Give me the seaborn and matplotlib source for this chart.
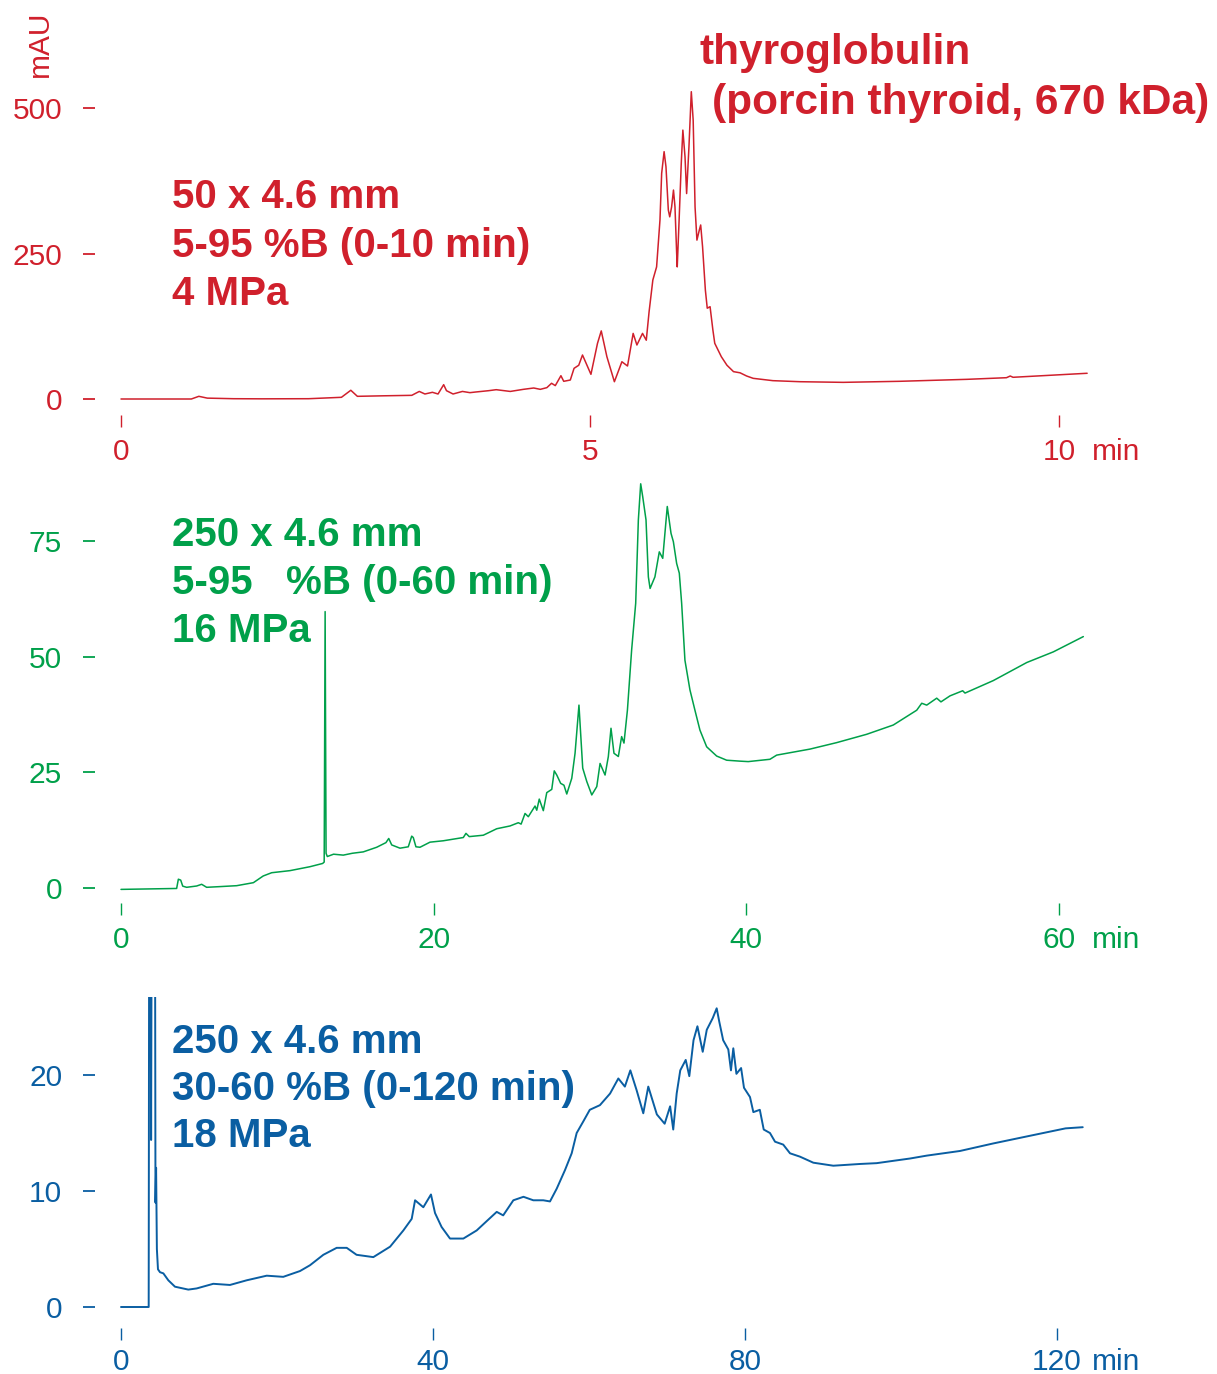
import matplotlib
matplotlib.use('Agg')
import matplotlib.pyplot as plt
import seaborn as sns

sns.set_style('white')
plt.rcParams['font.family'] = ['Liberation Sans', 'DejaVu Sans']

W, H, DPI = 1217, 1374, 100
RED = '#D0202C'
GREEN = '#00A04A'
BLUE = '#0A5EA2'

# ---------------- data: panel 1 (50 x 4.6 mm, 0-10 min) ----------------
t1 = [0.0, 0.75, 0.83, 0.92, 1.2, 1.5, 2.0, 2.35, 2.45, 2.52,
      2.8, 3.1, 3.18, 3.24, 3.32, 3.38, 3.44, 3.47, 3.54, 3.64,
      3.72, 3.78, 3.92, 4.0, 4.15, 4.29, 4.40, 4.47, 4.54, 4.59,
      4.63, 4.69, 4.72, 4.79, 4.83, 4.88, 4.92, 5.01, 5.08, 5.12,
      5.18, 5.26, 5.34, 5.40, 5.46, 5.50, 5.56, 5.60, 5.63, 5.67,
      5.71, 5.746, 5.764, 5.79, 5.81, 5.835, 5.85, 5.87, 5.89, 5.906,
      5.924, 5.93, 5.95, 5.973, 5.99, 6.013, 6.03, 6.055, 6.08, 6.10,
      6.12, 6.14, 6.165, 6.18, 6.20, 6.23, 6.25, 6.28, 6.31, 6.33,
      6.40, 6.46, 6.53, 6.60, 6.67, 6.74, 6.95, 7.24, 7.70, 8.30,
      9.02, 9.44, 9.48, 9.51, 10.30]
y1 = [0, 0, 4.6, 1.5, 0.5, 0.3, 0.5, 2.9, 15, 4.6,
      5.5, 6.3, 13, 8.6, 11.5, 8.6, 24.6, 14.3, 8.6, 13,
      10.9, 12, 14.3, 16, 13, 16.6, 18.9, 16.6, 19.5, 27,
      23, 40, 30.4, 32.6, 52.7, 58, 75.6, 42.4, 95.7, 117,
      72.7, 29.7, 64, 56.7, 112.7, 92.8, 112.7, 101, 150, 204.5,
      227, 307.5, 387.8, 425, 399, 324.7, 313, 330, 359, 330,
      250, 227, 307.5, 405, 462, 416, 353, 433.5, 528, 479,
      330, 273, 290, 299, 261.7, 187, 156, 158.6, 118.6, 95.7,
      72.7, 58, 47, 45, 39.5, 35.5, 31.5, 29.7, 28.6, 30.4,
      33.8, 36.6, 39.5, 37.3, 44.2]

# ---------------- data: panel 2 (250 x 4.6 mm, 0-60 min) ----------------
t2 = [0, 3.56, 3.67, 3.82, 3.95, 4.2, 4.84, 5.16, 5.48, 6.33,
      7.40, 8.47, 9.1, 9.64, 10.81, 12.09, 12.90, 13.0, 13.06, 13.12,
      13.2, 13.6, 14.22, 14.8, 15.5, 16.36, 16.95, 17.13, 17.32, 17.85,
      18.38, 18.6, 18.7, 18.87, 19.13, 19.77, 20.62, 21.9, 22.07, 22.28,
      23.18, 24.04, 24.89, 25.42, 25.6, 25.85, 26.06, 26.49, 26.6, 26.76,
      27.02, 27.24, 27.56, 27.72, 27.88, 28.13, 28.34, 28.52, 28.84, 29.05,
      29.3, 29.54, 29.8, 30.12, 30.44, 30.65, 30.97, 31.18, 31.35, 31.54,
      31.82, 32.03, 32.18, 32.4, 32.67, 32.93, 33.1, 33.25, 33.38, 33.59,
      33.74, 33.85, 34.16, 34.44, 34.66, 34.95, 35.19, 35.34, 35.55, 35.72,
      35.87, 36.08, 36.4, 36.72, 37.04, 37.47, 38.11, 38.75, 39.6, 40.13,
      41.52, 41.95, 44.08, 45.79, 47.71, 49.41, 50.91, 51.23, 51.55, 52.19,
      52.46, 53.04, 53.85, 54.0, 55.81, 57.95, 59.65, 61.57]
y2 = [-0.3, -0.1, 1.9, 1.7, 0.4, 0.15, 0.43, 0.8, 0.15, 0.3,
      0.5, 1.15, 2.6, 3.3, 3.75, 4.6, 5.3, 5.6, 59.7, 7.5,
      6.8, 7.3, 7.1, 7.5, 7.8, 8.8, 9.8, 10.7, 9.3, 8.6,
      8.9, 11.2, 10.9, 8.9, 8.8, 9.9, 10.2, 10.9, 11.8, 11.1,
      11.4, 12.8, 13.4, 14.1, 13.8, 16.1, 15.4, 17.7, 16.8, 19.2,
      16.7, 20.6, 21.3, 25.3, 24.4, 22.6, 22.2, 20.3, 23.7, 29.1,
      39.5, 25.9, 23, 20.1, 21.9, 26.9, 24.4, 28.4, 34.5, 29.1,
      28.4, 32.7, 31.3, 38.4, 51.4, 61.5, 79.5, 87.3, 84.5, 79.5,
      67.2, 64.7, 67.2, 72.6, 71.2, 82.4, 76.6, 74.8, 70.1, 68,
      61.5, 49.2, 42.8, 38.4, 34.1, 30.5, 28.5, 27.6, 27.4, 27.3,
      27.8, 28.7, 30, 31.4, 33.2, 35.2, 38.4, 39.9, 39.5, 41,
      40.2, 41.5, 42.6, 42.1, 44.8, 48.7, 51, 54.3]

# ---------------- data: panel 3 (250 x 4.6 mm, 0-120 min) ----------------
t3 = [0, 3.5, 3.55, 3.62, 3.78, 3.86, 3.95, 4.35, 4.42, 4.5,
      4.6, 4.74, 5.0, 5.43, 6.07, 6.92, 8.63, 9.7,
      11.83, 13.97, 16.1, 18.68, 20.8, 22.95, 24.23, 25.94, 27.65, 28.94,
      30.2, 32.35, 34.5, 36.2, 37.27, 37.7, 38.76, 39.74, 40.26, 41.1,
      42.18, 43.89, 45.6, 46.88, 48.17, 49.0, 50.3, 51.6, 52.86, 54.14,
      55.0, 55.86, 56.92, 57.78, 58.42, 59.27, 60.1, 61.4, 62.7, 63.76,
      64.6, 65.3, 66.1, 66.96, 67.6, 68.7, 69.7, 70.4, 70.8, 71.24,
      71.7, 72.4, 72.86, 73.4, 73.9, 74.58, 75.1, 75.86, 76.37, 76.7,
      77.2, 77.86, 78.2, 78.5, 78.9, 79.5, 79.87, 80.64, 81.07, 81.9,
      82.4, 83.2, 83.85, 84.9, 85.77, 87.05, 88.76, 91.32, 94.74, 96.88,
      99.0, 101.15, 103.3, 107.56, 111.83, 116.1, 121.1, 123.3]
y3 = [0, 0, 0, 40, 40, 14.4, 40, 40, 9, 12,
      5, 3.25, 3.0, 2.9, 2.3, 1.75, 1.5, 1.6,
      2.0, 1.9, 2.3, 2.7, 2.6, 3.1, 3.6, 4.5, 5.1, 5.1,
      4.5, 4.3, 5.2, 6.6, 7.6, 9.2, 8.6, 9.7, 8.1, 6.9,
      5.9, 5.9, 6.6, 7.4, 8.2, 7.9, 9.2, 9.5, 9.2, 9.2,
      9.1, 10.2, 11.8, 13.25, 15.0, 16.0, 17.0, 17.4, 18.4, 19.7,
      19.0, 20.4, 18.7, 16.7, 19.0, 16.6, 15.8, 17.3, 15.3, 18.4,
      20.4, 21.3, 19.9, 23.0, 24.2, 22.0, 23.9, 24.9, 25.75, 24.6,
      23.0, 22.2, 20.4, 22.3, 20.1, 20.6, 18.9, 18.1, 16.8, 17.0,
      15.3, 15.0, 14.25, 14.0, 13.25, 12.96, 12.44, 12.18, 12.33, 12.4,
      12.6, 12.8, 13.05, 13.45, 14.1, 14.7, 15.4, 15.5]

assert len(t1) == len(y1) and len(t2) == len(y2) and len(t3) == len(y3)

xticks1 = [0, 5, 10]
yticks1 = [0, 250, 500]
xticks2 = [0, 20, 40, 60]
yticks2 = [0, 25, 50, 75]
xticks3 = [0, 40, 80, 120]
yticks3 = [0, 10, 20]

notes1 = ['50 x 4.6 mm', '5-95 %B (0-10 min)', '4 MPa']
notes2 = ['250 x 4.6 mm', '5-95   %B (0-60 min)', '16 MPa']
notes3 = ['250 x 4.6 mm', '30-60 %B (0-120 min)', '18 MPa']
title_lines = ['thyroglobulin', '(porcin thyroid, 670 kDa)']

fig = plt.figure(figsize=(W / DPI, H / DPI), dpi=DPI)

TICK_FS = 21.5


def panel(L, R, T, B, xa, xb, yc, yd, t, y, color, xticks, yticks, lw,
          xpad=8):
    ax = fig.add_axes([L / W, 1 - B / H, (R - L) / W, (B - T) / H])
    sns.lineplot(x=t, y=y, ax=ax, color=color, linewidth=lw,
                 estimator=None, sort=False)
    ax.set_xlim((L - xa) / xb, (R - xa) / xb)
    ax.set_ylim((yc - B) / yd, (yc - T) / yd)
    ax.patch.set_alpha(0)
    for s in ax.spines.values():
        s.set_visible(False)
    ax.set_xticks(xticks)
    ax.set_yticks(yticks)
    ax.set_xticklabels([str(v) for v in xticks])
    ax.set_yticklabels([str(v) for v in yticks])
    ax.tick_params(axis='x', bottom=True, direction='out', length=8.6,
                   width=1.0, color=color, labelcolor=color,
                   labelsize=TICK_FS, pad=xpad)
    ax.tick_params(axis='y', left=True, direction='out', length=8.6,
                   width=1.3, color=color, labelcolor=color,
                   labelsize=TICK_FS, pad=15)
    ax.set_xlabel('')
    ax.set_ylabel('')
    ax.grid(False)
    # "min" unit label next to the last x tick label
    fig.text((R - 58) / W, 1 - (B + 12 + xpad * 100 / 72) / H, 'min',
             color=color, fontsize=TICK_FS, ha='left', va='top')
    return ax


panel(95, 1150, 60, 415, 121, 93.8, 399, 0.582, t1, y1, RED,
      xticks1, yticks1, 1.1)
panel(95, 1150, 470, 903, 121, 15.63, 888, 4.63, t2, y2, GREEN,
      xticks2, yticks2, 1.1)
panel(95, 1150, 997, 1328, 121, 7.8, 1307, 11.6, t3, y3, BLUE,
      xticks3, yticks3, 1.4, xpad=5.5)


def notes(lines, baselines, color, x=172, fs=29):
    for s, b in zip(lines, baselines):
        fig.text(x / W, 1 - b / H, s, color=color, fontsize=fs,
                 fontweight='bold', ha='left', va='baseline')


notes(notes1, [208, 257, 305], RED)
notes(notes2, [546, 594, 642], GREEN)
notes(notes3, [1053, 1100, 1147], BLUE)
notes(title_lines[:1], [64], RED, x=700, fs=30.5)
notes(title_lines[1:], [114], RED, x=712, fs=30.5)

fig.text(40 / W, 1 - 44 / H, 'mAU', color=RED, fontsize=TICK_FS,
         rotation=90, ha='center', va='center')

fig.savefig('out.png', dpi=DPI)
